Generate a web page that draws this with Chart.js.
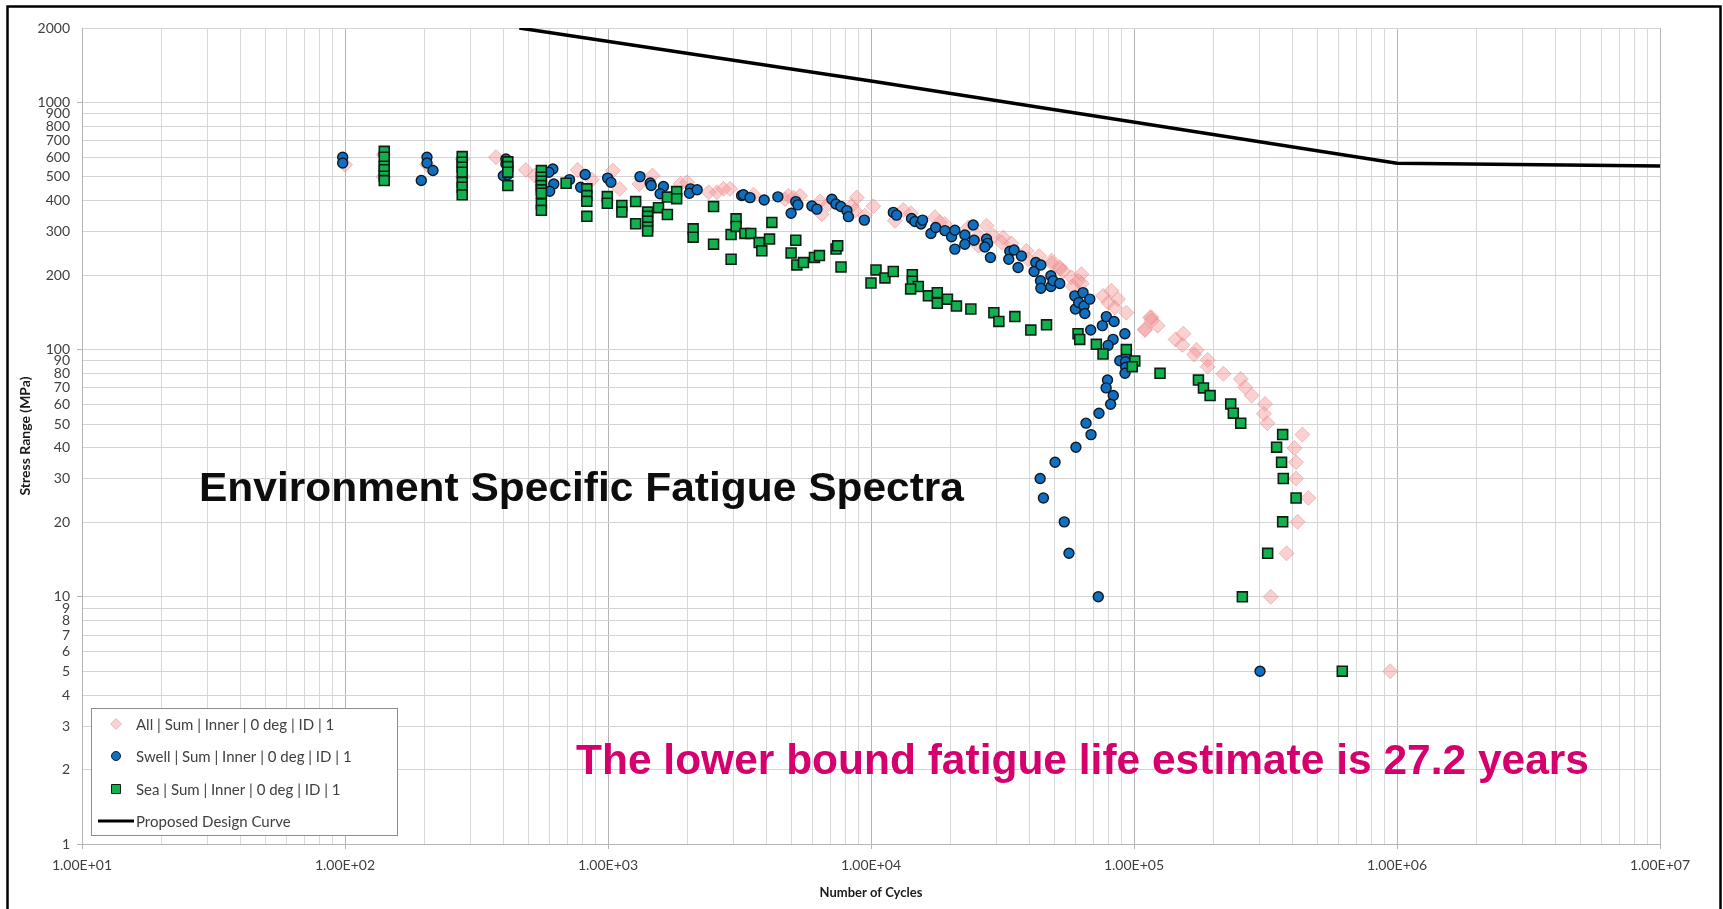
<!DOCTYPE html>
<html>
<head>
<meta charset="utf-8">
<title>Environment Specific Fatigue Spectra</title>
<script src="https://cdn.jsdelivr.net/npm/chart.js@4.4.1/dist/chart.umd.min.js"></script>
<style>
  html, body { margin: 0; padding: 0; background: #ffffff; }
  #wrap { position: relative; width: 1723px; height: 909px; }
</style>
</head>
<body>
<div id="wrap"><canvas id="fatigueChart" width="1723" height="909"></canvas></div>
<script>
// --- DATA ---
const allCycles = [100, 140, 140, 205, 280, 280, 375, 487, 527, 767, 868, 1044, 1107, 1316, 1476, 1888, 2000, 2415, 2595, 2748, 2911,
  3573, 4710, 4851, 5070, 5370, 6400, 6500, 6890, 8450, 8830, 8690, 9480, 10200, 12330, 13270, 14180, 17500, 18280, 19100,
  23430, 25600, 27500, 25600, 29170, 31840, 31400, 34200, 39000, 39550, 43550, 48530, 48640, 52240, 52350, 53700, 57800,
  61250, 63100, 63300, 58500, 76250, 79800, 82000, 86900, 84500, 93500, 110000, 116500, 115100, 110100, 123000, 116700,
  143900, 154100, 152800, 173000, 169500, 190600, 190600, 218700, 254600, 264400, 280200, 314800, 311900, 321400,
  436700, 407400, 413300, 413300, 460300, 419000, 380200, 331100, 942000];
const allStress = [560, 615, 500, 560, 590, 500, 600, 533, 506, 533, 487, 530, 447, 468, 506, 468, 475, 433, 433, 447, 447,
  423, 406, 419, 412, 419, 397, 353, 388, 382, 412, 365, 348, 380, 332, 367, 356, 343, 327, 322,
  312, 289, 317, 263, 289, 284, 271, 269, 251, 232, 239, 229, 223, 215, 212, 208, 196,
  190, 202, 185, 180, 165, 155, 173, 160, 148, 141, 121, 135, 135, 120, 125, 131,
  110, 116, 104.5, 99.7, 95.5, 90.8, 85.3, 79.8, 76.1, 70.5, 65.2, 60.3, 55, 50.4,
  45.3, 40, 35, 30.1, 25.1, 20.1, 15, 10, 5];

const swellCycles = [98, 98, 205, 205, 216, 195, 409, 409, 400, 415, 617, 596, 622, 600, 714, 787, 819, 997, 1026, 1323, 1447, 1460,
  1625, 1578, 2060, 2040, 2183, 3221, 3273, 3467, 3925, 4424, 4969, 5176, 5271, 5961, 6225, 7100, 7350, 7680, 8095, 8208, 9435,
  12160, 12510, 14260, 14690, 15490, 15710, 16900, 17620, 19100, 20250, 20840, 20840, 22740, 22740, 24470, 24680, 27500, 27740,
  27100, 28450, 33700, 33400, 35000, 36250, 37320, 42330, 41700, 44240, 44100, 44240, 48300, 48300, 49250, 52200, 59550, 59870,
  61630, 64000, 64570, 65000, 67900, 68450, 75800, 78500, 84000, 83250, 79700, 92300, 88300, 93500, 92900, 93000, 92430,
  79300, 78360, 83400, 81500, 73600, 65700, 68640, 60150, 50100, 43970, 45240, 54310, 56600, 73140, 301400];
const swellStress = [600, 569, 600, 569, 530, 483, 590, 563, 505, 510, 538, 522, 468, 437, 487, 454, 511, 494, 475, 501, 472, 461,
  457, 427, 447, 429, 443, 420, 423, 412, 403, 415, 356, 397, 385, 381, 370, 406, 388, 379, 365, 345, 334,
  359, 350, 339, 330, 322, 334, 295, 312, 303, 286, 304, 255, 291, 267, 319, 277, 280, 269,
  260, 236, 250, 232, 253, 215, 239, 225, 207, 220, 190, 177, 199, 180, 190, 185, 165, 146,
  155, 170, 150, 140, 160, 120, 125, 136, 130, 110, 104, 116, 90.2, 94.4, 89.3, 84.8, 80.2,
  75.3, 70, 65.2, 60.1, 55.3, 50.4, 45.3, 40.3, 35, 30.1, 25.1, 20.1, 15, 10, 5];

const seaCycles = [141, 141, 141, 141, 141, 141, 279, 279, 279, 279, 279, 279, 279, 416, 416, 416, 416,
  558, 558, 558, 558, 558, 558, 558, 558, 693, 831, 831, 831, 831, 994, 994, 1129, 1129, 1274, 1274,
  1415, 1415, 1415, 1415, 1415, 1556, 1682, 1682, 1824, 1824, 2107, 2107, 2520, 2520, 2938, 2938, 3069, 3069, 3315,
  4198, 3490, 3757, 3845, 4113, 5176, 4969, 5224, 5535, 6095, 6367, 7362, 7470, 7690, 10000, 10450, 11300, 12150,
  14360, 14360, 15130, 14150, 16530, 17870, 17870, 19530, 21130, 23970, 29320, 30630, 35240, 40520, 46490,
  61250, 62180, 71900, 76250, 93500, 100700, 98500, 125600, 175800, 183700, 194700, 233200, 238600, 254600,
  367500, 348500, 364000, 369500, 413300, 367500, 322300, 258200, 619400];
const seaStress = [634, 600, 552, 534, 503, 483, 604, 573, 547, 522, 475, 454, 423, 575, 550, 522, 461,
  530, 498, 480, 461, 443, 429, 389, 366, 471, 447, 420, 398, 346, 416, 391, 383, 360, 397, 323,
  360, 346, 331, 313, 302, 375, 414, 352, 436, 408, 308, 285, 379, 267, 292, 232, 338, 315, 295,
  327, 295, 271, 251, 280, 277, 246, 220, 225, 236, 240, 255, 263, 216, 186, 210, 195, 207,
  201, 189, 180, 176, 165, 170, 154, 160, 150, 146, 141, 130, 136, 120, 126,
  116, 110, 105, 96, 100, 90, 85.3, 80.2, 75.3, 70, 65.2, 60.3, 55.3, 50.4,
  45.3, 40.3, 35, 30.1, 25.1, 20.1, 15, 10, 5];

const curveCycles = [460, 10000, 1000000, 10000000];
const curveStress = [2000, 1220, 567, 553];

const seriesLabels = [
  'All | Sum | Inner | 0 deg | ID | 1',
  'Swell | Sum | Inner | 0 deg | ID | 1',
  'Sea | Sum | Inner | 0 deg | ID | 1',
  'Proposed Design Curve'
];

// gridline / tick positions
const xDecades = [10, 100, 1000, 10000, 100000, 1000000];
const yDecades = [1, 10, 100];
const tickSteps = [1, 2, 3, 4, 5, 6, 7, 8, 9];
const xTickValues = xDecades.flatMap(d => tickSteps.map(s => s * d)).concat([10000000]);
const yTickValues = yDecades.flatMap(d => tickSteps.map(s => s * d)).concat([1000, 2000]);

const titleText = 'Environment Specific Fatigue Spectra';
const noteText = 'The lower bound fatigue life estimate is 27.2 years';

// --- HELPERS ---
const toPoints = (xs, ys) => xs.map((x, i) => ({ x: x, y: ys[i] }));
const isDecade = v => Math.abs(Math.log10(v) - Math.round(Math.log10(v))) < 1e-9;
const sciLabel = v => '1.00E+' + String(Math.round(Math.log10(v))).padStart(2, '0');

// draws text stretched/squeezed so it spans exactly `width` pixels
function fitText(ctx, text, x, y, width) {
  const natural = ctx.measureText(text).width;
  ctx.save();
  ctx.translate(x, y);
  ctx.scale(width / natural, 1);
  ctx.fillText(text, 0, 0);
  ctx.restore();
}

// small hand-drawn markers for the legend box
function legendMarker(ctx, style, x, y) {
  ctx.beginPath();
  if (style === 'circle') {
    ctx.arc(x, y, 4.5, 0, Math.PI * 2);
  } else if (style === 'rect') {
    ctx.rect(x - 4.5, y - 4.5, 9, 9);
  } else {
    ctx.moveTo(x, y - 5.5); ctx.lineTo(x + 5.5, y); ctx.lineTo(x, y + 5.5); ctx.lineTo(x - 5.5, y); ctx.closePath();
  }
  ctx.fill();
  ctx.stroke();
}

const decorPlugin = {
  id: 'decor',
  beforeDraw(chart) {
    const ctx = chart.ctx;
    ctx.save();
    ctx.fillStyle = '#ffffff';
    ctx.fillRect(0, 0, chart.width, chart.height);
    ctx.restore();
  },
  afterDraw(chart) {
    const ctx = chart.ctx;
    ctx.save();

    // outer frame
    ctx.strokeStyle = '#000000';
    ctx.lineWidth = 2.5;
    ctx.strokeRect(7.5, 6.5, 1713, 960);

    // big annotations
    ctx.textBaseline = 'alphabetic';
    ctx.textAlign = 'left';
    ctx.fillStyle = '#0d0d0d';
    ctx.font = 'bold 41px "Liberation Sans", Arial, sans-serif';
    fitText(ctx, titleText, 199, 501, 765);
    ctx.fillStyle = '#d5006d';
    ctx.font = 'bold 42px "Liberation Sans", Arial, sans-serif';
    fitText(ctx, noteText, 576, 774, 1013);

    // legend box
    const box = { x: 91, y: 708, w: 306, h: 127 };
    ctx.fillStyle = '#ffffff';
    ctx.fillRect(box.x, box.y, box.w, box.h);
    ctx.strokeStyle = '#8c8c8c';
    ctx.lineWidth = 1;
    ctx.strokeRect(box.x + 0.5, box.y + 0.5, box.w, box.h);

    const rowY = [724, 756, 789, 821];
    ctx.font = '15px Lato, "Open Sans", sans-serif';
    ctx.textBaseline = 'middle';
    chart.data.datasets.forEach((ds, i) => {
      const y = rowY[i];
      if (ds.type === 'line') {
        ctx.strokeStyle = ds.borderColor;
        ctx.lineWidth = 3;
        ctx.beginPath();
        ctx.moveTo(98, y);
        ctx.lineTo(134, y);
        ctx.stroke();
      } else {
        ctx.fillStyle = ds.backgroundColor;
        ctx.strokeStyle = ds.borderColor;
        ctx.lineWidth = 1;
        legendMarker(ctx, ds.pointStyle, 116, y);
      }
      ctx.fillStyle = '#404040';
      ctx.fillText(ds.label, 136, y + 1);
    });
    ctx.restore();
  }
};

// --- CHART SETUP ---
const ctx = document.getElementById('fatigueChart').getContext('2d');
const chart = new Chart(ctx, {
  type: 'scatter',
  data: {
    datasets: [
      {
        label: seriesLabels[0],
        data: toPoints(allCycles, allStress),
        pointStyle: 'rectRot',
        pointRadius: 7.5,
        backgroundColor: 'rgba(245, 150, 150, 0.45)',
        borderColor: 'rgba(225, 130, 130, 0.45)',
        borderWidth: 1,
        order: 4
      },
      {
        label: seriesLabels[1],
        data: toPoints(swellCycles, swellStress),
        pointStyle: 'circle',
        pointRadius: 5,
        backgroundColor: '#1070bf',
        borderColor: '#0d1a26',
        borderWidth: 1.4,
        order: 3
      },
      {
        label: seriesLabels[2],
        data: toPoints(seaCycles, seaStress),
        pointStyle: 'rect',
        pointRadius: 7,
        backgroundColor: '#13b04f',
        borderColor: '#0d1f14',
        borderWidth: 1.6,
        order: 2
      },
      {
        type: 'line',
        label: seriesLabels[3],
        data: toPoints(curveCycles, curveStress),
        borderColor: '#000000',
        backgroundColor: '#000000',
        borderWidth: 3.5,
        pointRadius: 0,
        showLine: true,
        fill: false,
        tension: 0,
        order: 1
      }
    ]
  },
  options: {
    responsive: false,
    devicePixelRatio: 1,
    animation: false,
    events: [],
    layout: { padding: { top: 28, right: 63, bottom: 0, left: 8 } },
    plugins: {
      legend: { display: false },
      tooltip: { enabled: false },
      title: { display: false }
    },
    scales: {
      x: {
        type: 'logarithmic',
        min: 10,
        max: 10000000,
        afterBuildTicks: scale => { scale.ticks = xTickValues.map(v => ({ value: v })); },
        afterFit: scale => { scale.height = 65; },
        ticks: {
          autoSkip: false,
          maxRotation: 0,
          minRotation: 0,
          padding: 8,
          color: '#404040',
          font: { family: 'Lato, "Open Sans", sans-serif', size: 14 },
          callback: value => isDecade(value) ? sciLabel(value) : ''
        },
        grid: {
          color: c => (c.tick && isDecade(c.tick.value)) ? '#b4b4b4' : '#d9d9d9',
          lineWidth: 1,
          drawTicks: true,
          tickLength: 5,
          tickColor: c => (c.tick && isDecade(c.tick.value)) ? '#b4b4b4' : 'rgba(0,0,0,0)'
        },
        border: { display: true, color: '#b4b4b4' },
        title: {
          display: true,
          text: 'Number of Cycles',
          color: '#1a1a1a',
          font: { family: 'Lato, "Open Sans", sans-serif', size: 13, weight: 'bold' },
          padding: { top: 0, bottom: 8 }
        }
      },
      y: {
        type: 'logarithmic',
        min: 1,
        max: 2000,
        afterBuildTicks: scale => { scale.ticks = yTickValues.map(v => ({ value: v })); },
        afterFit: scale => { scale.width = 74; },
        ticks: {
          autoSkip: false,
          padding: 7,
          color: '#404040',
          font: { family: 'Lato, "Open Sans", sans-serif', size: 14 },
          callback: value => String(value)
        },
        grid: {
          color: '#d4d4d4',
          lineWidth: 1,
          drawTicks: true,
          tickLength: 5,
          tickColor: c => (c.tick && isDecade(c.tick.value)) ? '#b4b4b4' : 'rgba(0,0,0,0)'
        },
        border: { display: true, color: '#b4b4b4' },
        title: {
          display: true,
          text: 'Stress Range (MPa)',
          color: '#1a1a1a',
          font: { family: 'Lato, "Open Sans", sans-serif', size: 14, weight: 'bold' },
          padding: { top: 9, bottom: 0 }
        }
      }
    }
  },
  plugins: [decorPlugin]
});
</script>
</body>
</html>
